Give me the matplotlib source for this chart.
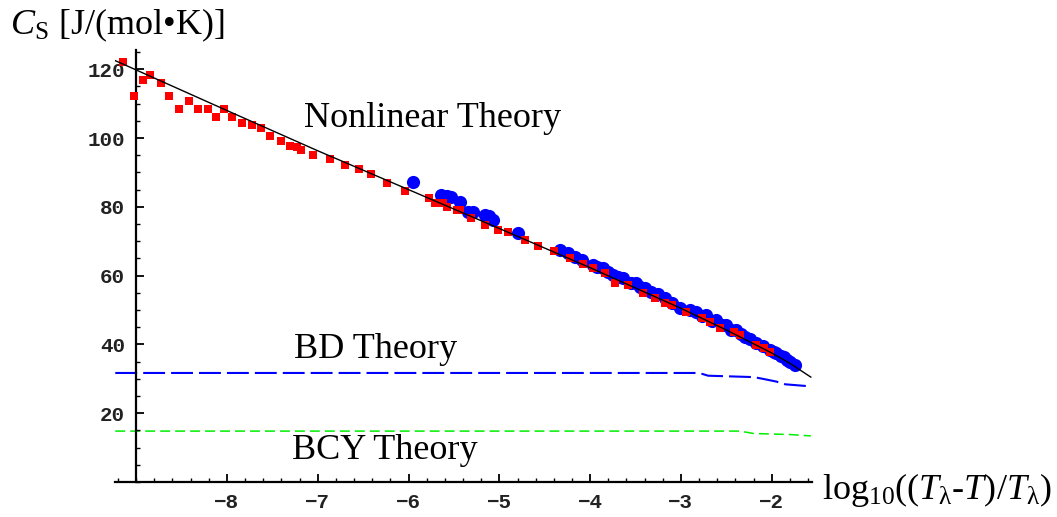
import matplotlib
matplotlib.use("Agg")
import matplotlib.pyplot as plt
from matplotlib.ticker import MultipleLocator

plt.rcParams['font.family'] = ['Liberation Serif', 'DejaVu Serif']
plt.rcParams['mathtext.fontset'] = 'custom'
plt.rcParams['mathtext.rm'] = 'Liberation Serif'
plt.rcParams['mathtext.it'] = 'Liberation Serif:italic'

# Nonlinear theory curve
theory_x = [-9.23, -9.0, -8.0, -7.0, -6.0, -5.0, -4.0, -3.0, -2.5, -2.0, -1.8, -1.57]
theory_y = [122.5, 119.8, 108.0, 96.3, 85.0, 73.7, 62.3, 50.5, 44.2, 37.5, 34.5, 30.5]

# BD and BCY theory
bd_x = [-9.23, -2.8, -2.7, -2.2, -2.1, -1.95, -1.85, -1.57]
bd_y = [31.7, 31.7, 30.9, 30.5, 30.0, 29.2, 28.4, 27.8]
bcy_x = [-9.23, -2.35, -2.2, -1.8, -1.57]
bcy_y = [14.8, 14.8, 14.1, 13.8, 13.4]

# red squares
red_x = [-9.14, -9.02, -8.93, -8.85, -8.73, -8.64, -8.53, -8.42, -8.32, -8.21,
         -8.12, -8.03, -7.94, -7.83, -7.72, -7.63, -7.53, -7.40, -7.31, -7.23,
         -7.18, -7.05, -6.87, -6.70, -6.55, -6.41, -6.24, -6.04, -5.78, -5.62,
         -5.43, -5.71, -5.58, -5.47, -5.31, -5.16, -5.01, -4.90, -4.72, -4.57,
         -4.40, -4.22, -4.08, -3.97, -3.84, -3.73, -3.58, -3.42, -3.29, -3.18,
         -3.10, -2.94, -2.77, -2.68, -2.57, -2.42, -2.35, -2.17, -2.09, -2.02]
red_y = [122.2, 112.3, 116.9, 118.3, 115.9, 112.2, 108.3, 110.8, 108.4, 108.4,
         106.0, 108.4, 106.0, 104.3, 103.8, 103.0, 100.7, 99.1, 97.8, 97.5,
         96.5, 95.1, 93.8, 92.2, 90.9, 89.5, 86.8, 84.6, 82.6, 81.0,
         79.1, 81.0, 80.0, 79.1, 76.7, 74.7, 73.3, 72.8, 70.3, 68.6,
         67.2, 65.0, 63.3, 62.1, 60.7, 57.8, 57.3, 55.0, 53.4, 51.9,
         51.5, 49.5, 47.6, 46.6, 44.7, 43.7, 42.7, 39.8, 38.9, 37.9]

# blue circles
blue_x = [-5.95, -5.64, -5.58, -5.53, -5.43, -5.34, -5.29, -5.16, -5.11, -5.07,
          -4.79, -4.33, -4.24, -4.17, -4.09, -3.97, -3.93, -3.86, -3.80, -3.75,
          -3.69, -3.64, -3.55, -3.49, -3.45, -3.40, -3.33, -3.25, -3.18, -3.10,
          -3.01, -2.90, -2.83, -2.77, -2.72, -2.66, -2.61, -2.55, -2.50, -2.45,
          -2.39, -2.34, -2.30, -2.24, -2.17, -2.10, -2.02, -1.98, -1.95, -1.90,
          -1.87, -1.83, -1.80, -1.74]
blue_y = [87.3, 83.4, 83.2, 82.9, 81.5, 78.6, 78.6, 77.6, 77.2, 76.2,
          72.3, 67.4, 66.5, 65.5, 64.5, 63.1, 62.6, 62.1, 61.0, 60.2,
          59.7, 59.2, 58.0, 57.8, 56.8, 56.3, 55.3, 54.8, 53.5, 51.9,
          50.5, 50.0, 49.5, 48.3, 48.5, 46.9, 47.1, 45.6, 45.6, 44.3,
          44.2, 43.0, 42.2, 41.5, 40.3, 39.5, 38.4, 37.7, 37.4, 36.6,
          36.4, 35.6, 35.0, 34.0]

fig = plt.figure(figsize=(10.57, 5.17), dpi=100)
ax = fig.add_axes([0.1088, 0.0677, 0.6594, 0.8356])

ax.scatter(blue_x, blue_y, s=90, color='#0000ff', linewidths=0, zorder=2)
ax.scatter(red_x, red_y, s=28, marker='s', color='#ff0000', linewidths=0, zorder=3)
ax.plot(theory_x, theory_y, color='black', lw=1.0, zorder=4)
ax.plot(bd_x, bd_y, color='#0000ff', lw=1.5, dashes=(10.5, 2.9), zorder=1)
ax.plot(bcy_x, bcy_y, color='#00ee00', lw=1.1, dashes=(6.5, 3.3), zorder=1)

ax.set_xlim(-9.233, -1.557)
ax.set_ylim(0, 125.6)
ax.spines['top'].set_visible(False)
ax.spines['right'].set_visible(False)
ax.spines['left'].set_position(('data', -9.0))
ax.spines['left'].set_linewidth(1.6)
ax.spines['bottom'].set_linewidth(1.6)

ax.xaxis.set_minor_locator(MultipleLocator(0.2))
ax.yaxis.set_minor_locator(MultipleLocator(5))
ax.set_xticks([-8, -7, -6, -5, -4, -3, -2])
ax.set_yticks([20, 40, 60, 80, 100, 120])
ax.tick_params(which='major', direction='in', length=6, width=1.3, pad=8,
               labelsize=15, colors='black')
ax.tick_params(which='minor', direction='in', length=3, width=1.0)
for lab in ax.get_xticklabels() + ax.get_yticklabels():
    lab.set_family(['Liberation Mono', 'DejaVu Sans Mono'])
    lab.set_weight('bold')
    lab.set_color('#222222')

ax.text(-5.74, 105.8, 'Nonlinear Theory', fontsize=26, ha='center', va='center')
ax.text(-6.36, 38.4, 'BD Theory', fontsize=26, ha='center', va='center')
ax.text(-6.26, 9.3, 'BCY Theory', fontsize=26, ha='center', va='center')

fig.text(10 / 1057, 1 - 25 / 517, r'$C_{\mathrm{S}}$ [J/(mol•K)]', fontsize=26,
         ha='left', va='center')
fig.text(822 / 1057, 1 - 490 / 517,
         r'log$_{10}$(($T_{\mathrm{\lambda}}$-$T$)/$T_{\mathrm{\lambda}}$)',
         fontsize=26, ha='left', va='center')

fig.savefig('out.png', dpi=100)
